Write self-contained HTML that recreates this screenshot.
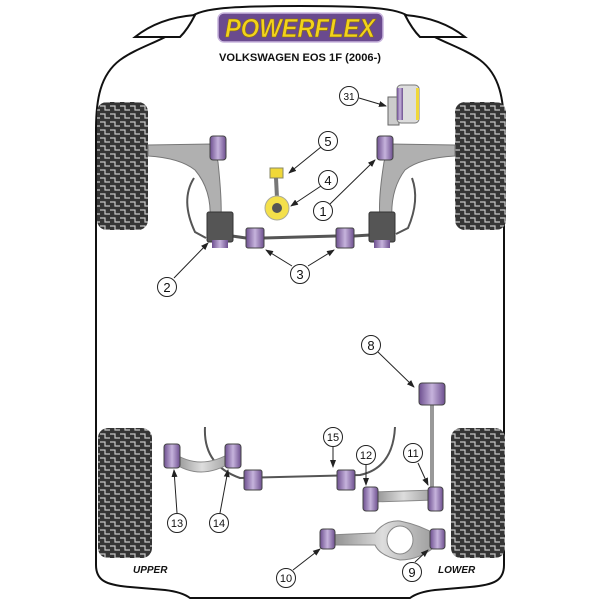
<!DOCTYPE html>
<html><head><style>html,body{margin:0;padding:0;background:#fff}svg{display:block}</style></head>
<body>
<svg width="600" height="600" viewBox="0 0 600 600" xmlns="http://www.w3.org/2000/svg" font-family="Liberation Sans, sans-serif">
<defs>
<pattern id="tread" width="10" height="8" patternUnits="userSpaceOnUse">
<rect width="10" height="8" fill="#353535"/>
<path d="M0 2 H5 V6 H10" stroke="#c8c8c8" stroke-width="1.2" fill="none"/>
</pattern>
<linearGradient id="pur" x1="0" x2="1">
<stop offset="0" stop-color="#6d4f8f"/><stop offset="0.5" stop-color="#c6b3dc"/><stop offset="1" stop-color="#6d4f8f"/>
</linearGradient>
<linearGradient id="gr" x1="0" x2="1">
<stop offset="0" stop-color="#888"/><stop offset="0.5" stop-color="#ddd"/><stop offset="1" stop-color="#999"/>
</linearGradient>
<marker id="ah" markerWidth="8" markerHeight="8" refX="7" refY="4" orient="auto" markerUnits="userSpaceOnUse"><path d="M0 1 L8 4 L0 7 Z" fill="#222"/></marker>
</defs>
<path d="M300 6 C370 6 405 8 412 20 C425 38 460 45 480 60 C500 75 504 100 504 130 L504 565 C504 580 495 585 470 587 L435 590 Q418 592 410 598 L190 598 Q182 592 165 590 L130 587 C105 585 96 580 96 565 L96 130 C96 100 100 75 120 60 C140 45 175 38 188 20 C195 8 230 6 300 6 Z" fill="#fff" stroke="#111" stroke-width="2"/>
<path d="M135 37 C150 25 170 17 195 15 C190 25 185 32 180 37 Z" fill="#fff" stroke="#111" stroke-width="2"/>
<path d="M465 37 C450 25 430 17 405 15 C410 25 415 32 420 37 Z" fill="#fff" stroke="#111" stroke-width="2"/>
<rect x="218" y="13" width="165" height="29" rx="6" fill="#6a4a8e" stroke="#c9b6dd" stroke-width="1.5"/>
<text x="300" y="37" text-anchor="middle" font-size="26" font-weight="bold" font-style="italic" fill="#f2d21b" stroke="#8a6d10" stroke-width="0.6" textLength="150" lengthAdjust="spacingAndGlyphs">POWERFLEX</text>
<text x="300" y="61" text-anchor="middle" font-size="11" font-weight="bold" fill="#111" textLength="162" lengthAdjust="spacingAndGlyphs">VOLKSWAGEN EOS 1F (2006-)</text>
<rect x="97" y="102" width="51" height="128" rx="10" fill="url(#tread)"/>
<rect x="455" y="102" width="51" height="128" rx="10" fill="url(#tread)"/>
<rect x="98" y="428" width="54" height="130" rx="10" fill="url(#tread)"/>
<rect x="451" y="428" width="54" height="130" rx="10" fill="url(#tread)"/>
<path d="M148 145 L212 144 L218 162 Q222 200 221 218 L210 220 Q212 190 195 170 Q180 158 148 156 Z" fill="#b0b0b0" stroke="#777"/>
<path d="M455 145 L390 144 L384 162 Q378 200 380 218 L392 220 Q390 190 405 170 Q420 158 455 156 Z" fill="#b0b0b0" stroke="#777"/>
<path d="M194 178 Q180 200 195 232 L206 238" fill="none" stroke="#555" stroke-width="2"/>
<path d="M412 178 Q420 200 408 228 L396 234" fill="none" stroke="#555" stroke-width="2"/>
<path d="M232 236 L246 238 M264 238 L336 236 M354 236 L370 235" stroke="#555" stroke-width="3"/>
<rect x="246" y="228" width="18" height="20" rx="2" fill="url(#pur)" stroke="#444"/>
<rect x="336" y="228" width="18" height="20" rx="2" fill="url(#pur)" stroke="#444"/>
<rect x="210" y="136" width="16" height="24" rx="3" fill="url(#pur)" stroke="#444"/>
<rect x="377" y="136" width="16" height="24" rx="3" fill="url(#pur)" stroke="#444"/>
<rect x="207" y="212" width="26" height="30" rx="2" fill="#555" stroke="#333"/>
<rect x="212" y="240" width="16" height="8" fill="url(#pur)"/>
<rect x="369" y="212" width="26" height="30" rx="2" fill="#555" stroke="#333"/>
<rect x="374" y="240" width="16" height="8" fill="url(#pur)"/>
<rect x="270" y="168" width="13" height="10" fill="#f0d838" stroke="#886"/>
<path d="M276 178 L277 198" stroke="#777" stroke-width="4"/>
<circle cx="277" cy="208" r="12" fill="#f4e04a" stroke="#aa9" />
<circle cx="277" cy="208" r="5" fill="#555"/>
<rect x="388" y="97" width="11" height="28" fill="#ccc" stroke="#666"/>
<rect x="397" y="85" width="22" height="38" rx="4" fill="#ddd" stroke="#777"/>
<rect x="397" y="88" width="6" height="32" fill="url(#pur)"/>
<rect x="416" y="88" width="3" height="32" fill="#f0d838"/>
<path d="M205 427 Q203 465 240 478 L360 475 Q393 468 395 427" fill="none" stroke="#555" stroke-width="2"/>
<path d="M172 452 Q200 472 232 452 L232 462 Q200 482 172 462 Z" fill="url(#gr)" stroke="#888"/>
<rect x="164" y="444" width="16" height="24" rx="3" fill="url(#pur)" stroke="#444"/>
<rect x="225" y="444" width="16" height="24" rx="3" fill="url(#pur)" stroke="#444"/>
<rect x="244" y="470" width="18" height="20" rx="2" fill="url(#pur)" stroke="#444"/>
<rect x="337" y="470" width="18" height="20" rx="2" fill="url(#pur)" stroke="#444"/>
<path d="M432 405 L432 490" stroke="#999" stroke-width="4"/>
<rect x="419" y="383" width="26" height="22" rx="3" fill="url(#pur)" stroke="#444"/>
<path d="M372 492 L435 490 L435 500 L372 502 Z" fill="url(#gr)" stroke="#888"/>
<rect x="363" y="487" width="15" height="24" rx="3" fill="url(#pur)" stroke="#444"/>
<rect x="428" y="487" width="15" height="24" rx="3" fill="url(#pur)" stroke="#444"/>
<path d="M328 535 L375 533 Q385 520 400 521 Q420 525 437 535 L437 545 Q420 560 400 560 Q380 556 375 545 L328 545 Z" fill="url(#gr)" stroke="#888"/>
<ellipse cx="400" cy="540" rx="13" ry="14" fill="#fff" stroke="#888"/>
<rect x="320" y="529" width="15" height="20" rx="3" fill="url(#pur)" stroke="#444"/>
<rect x="430" y="529" width="15" height="20" rx="3" fill="url(#pur)" stroke="#444"/>
<text x="133" y="573" font-size="10" font-weight="bold" font-style="italic" fill="#111">UPPER</text>
<text x="438" y="573" font-size="10" font-weight="bold" font-style="italic" fill="#111">LOWER</text>
<g stroke="#222" stroke-width="1" fill="none" marker-end="url(#ah)">
<path d="M321 147 L289 173"/><path d="M321 186 L291 206"/><path d="M330 204 L375 160"/>
<path d="M174 278 L208 243"/><path d="M292 266 L266 250"/><path d="M308 266 L334 250"/>
<path d="M359 98 L386 106"/><path d="M378 352 L414 387"/><path d="M333 447 L333 467"/>
<path d="M366 465 L366 485"/><path d="M418 463 L428 485"/><path d="M177 513 L174 470"/>
<path d="M220 513 L228 470"/><path d="M293 570 L320 549"/><path d="M415 562 L428 550"/>
</g>
<g fill="#fff" stroke="#222" stroke-width="1">
<circle cx="328" cy="141" r="9.5"/><circle cx="328" cy="180" r="9.5"/><circle cx="323" cy="211" r="9.5"/>
<circle cx="167" cy="287" r="9.5"/><circle cx="300" cy="274" r="9.5"/><circle cx="349" cy="96" r="9.5"/>
<circle cx="371" cy="345" r="9.5"/><circle cx="333" cy="437" r="9.5"/><circle cx="366" cy="455" r="9.5"/>
<circle cx="413" cy="453" r="9.5"/><circle cx="177" cy="523" r="9.5"/><circle cx="219" cy="523" r="9.5"/>
<circle cx="286" cy="578" r="9.5"/><circle cx="412" cy="572" r="9.5"/>
</g>
<g font-size="13" text-anchor="middle" fill="#111">
<text x="328" y="146">5</text><text x="328" y="185">4</text><text x="323" y="216">1</text>
<text x="167" y="292">2</text><text x="300" y="279">3</text><text x="349" y="100" font-size="10">31</text>
<text x="371" y="350">8</text><text x="333" y="441" font-size="11">15</text><text x="366" y="459" font-size="11">12</text>
<text x="413" y="457" font-size="11">11</text><text x="177" y="527" font-size="11">13</text><text x="219" y="527" font-size="11">14</text>
<text x="286" y="582" font-size="11">10</text><text x="412" y="577">9</text>
</g>
</svg>
</body></html>
